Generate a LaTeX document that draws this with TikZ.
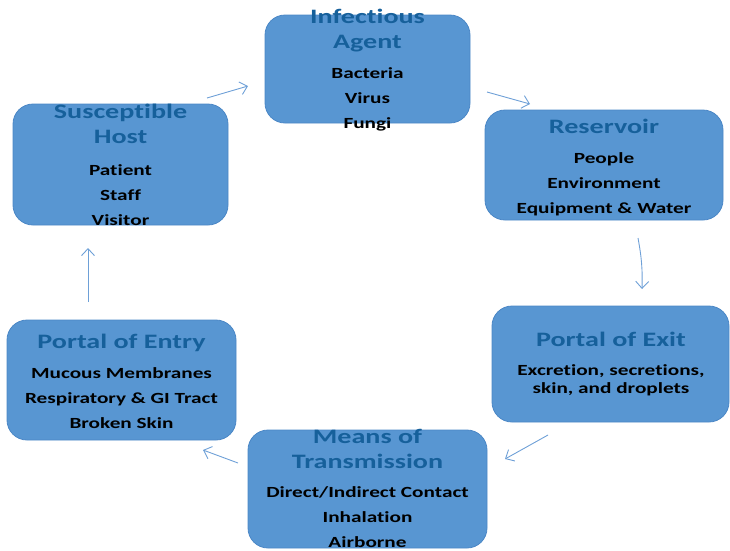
\documentclass[tikz,border=0pt]{standalone}
\usepackage{fontspec}
\setmainfont{Carlito}[FakeStretch=1.37, Ligatures=NoCommon]
\usepackage{tikz}
\usetikzlibrary{arrows.meta}
\definecolor{stagefill}{RGB}{88,150,210}
\definecolor{stageline}{RGB}{75,135,198}
\definecolor{titleblue}{RGB}{22,96,155}
\definecolor{arrowblue}{RGB}{110,160,215}
\tikzset{
  stage/.style={draw=stageline, fill=stagefill, rounded corners=20pt, line width=0.8pt},
  stagetitle/.style={anchor=north, inner sep=0pt, align=center, text=titleblue,
    font=\bfseries\fontsize{20.5}{25}\selectfont},
  stageitems/.style={anchor=north, inner sep=0pt, align=center, text=black,
    font=\bfseries\fontsize{15.5}{25}\selectfont},
  cyclearrow/.style={draw=arrowblue, line width=0.9pt, -{Straight Barb[length=7pt,width=13pt]}}
}

\begin{document}
\begin{tikzpicture}[x=1pt,y=-1pt]
      \useasboundingbox (0,0) rectangle (730,550);
      % boxes
      \node[stage, minimum width=205pt, minimum height=108pt] (agent) at (367.5,69) {};
      \node[stage, minimum width=238pt, minimum height=110pt] (reservoir) at (604,165) {};
      \node[stage, minimum width=237pt, minimum height=116pt] (exit) at (610.5,364) {};
      \node[stage, minimum width=239pt, minimum height=118pt] (means) at (367.5,489) {};
      \node[stage, minimum width=229pt, minimum height=120pt] (entry) at (121.5,380) {};
      \node[stage, minimum width=215pt, minimum height=121pt] (host) at (120.5,164.5) {};
      % texts
      \node[stagetitle] (agenttitle) at (367.5,9) {Infectious\\Agent};
      \node[stageitems] (agentitems) at (367.5,67) {Bacteria\\Virus\\Fungi};
      \node[stagetitle] (reservoirtitle) at (604,119) {Reservoir};
      \node[stageitems] (reservoiritems) at (604,152) {People\\Environment\\Equipment \& Water};
      \node[stagetitle] (exittitle) at (611,332) {Portal of Exit};
      \node[stageitems, font=\bfseries\fontsize{15.5}{18}\selectfont] (exititems) at (611,364)
        {Excretion, secretions,\\skin, and droplets};
      \node[stagetitle] (meanstitle) at (367.5,429) {Means of\\Transmission};
      \node[stageitems] (meansitems) at (367.5,486) {Direct/Indirect Contact\\Inhalation\\Airborne};
      \node[stagetitle] (entrytitle) at (121.5,334) {Portal of Entry};
      \node[stageitems] (entryitems) at (121.5,367) {Mucous Membranes\\Respiratory \& GI Tract\\Broken Skin};
      \node[stagetitle] (hosttitle) at (120.5,104) {Susceptible\\Host};
      \node[stageitems] (hostitems) at (120.5,164) {Patient\\Staff\\Visitor};
      % arrows
      \coordinate (hostout) at (207,98);
      \coordinate (agentin) at (248,86);
      \coordinate (agentout) at (487,92);
      \coordinate (reservoirin) at (530,104);
      \coordinate (reservoirout) at (638,238);
      \coordinate (exitin) at (642,289);
      \coordinate (exitout) at (548,435);
      \coordinate (meansin) at (505,459);
      \coordinate (meansout) at (238,463);
      \coordinate (entryin) at (203,450);
      \coordinate (entryout) at (88,302);
      \coordinate (hostin) at (88,248);
      \draw[cyclearrow] (hostout) -- (agentin);
      \draw[cyclearrow] (agentout) -- (reservoirin);
      \draw[cyclearrow] (reservoirout) to[bend left=6] (exitin);
      \draw[cyclearrow] (exitout) -- (meansin);
      \draw[cyclearrow] (meansout) -- (entryin);
      \draw[cyclearrow] (entryout) -- (hostin);
    \end{tikzpicture}
\end{document}
